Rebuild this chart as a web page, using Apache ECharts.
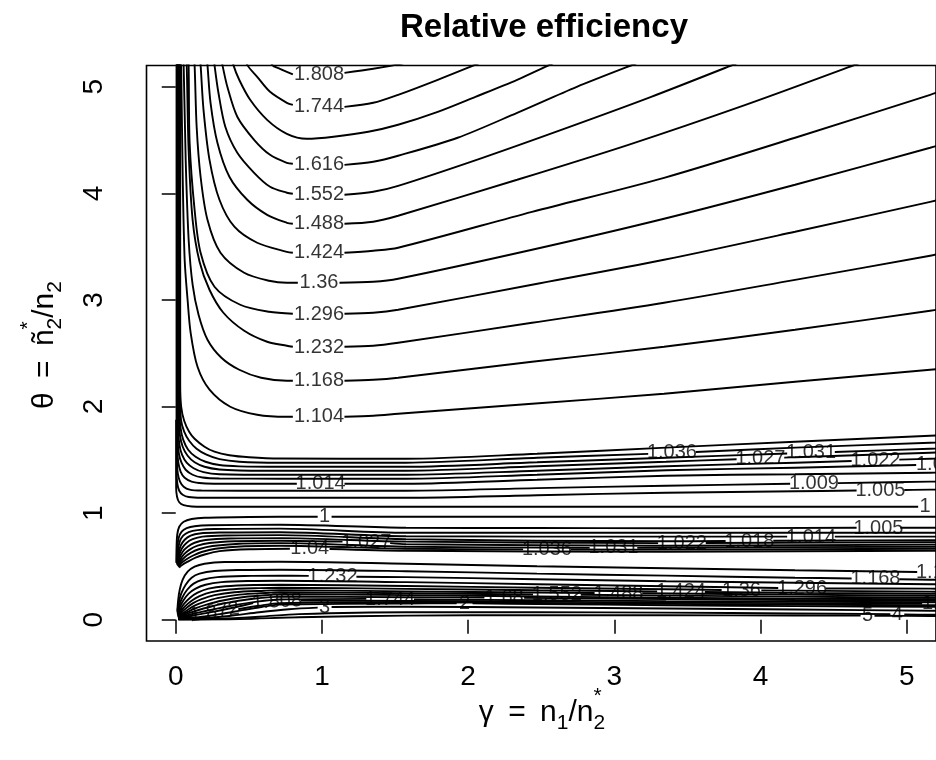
<!DOCTYPE html>
<html><head><meta charset="utf-8">
<script src="https://cdn.jsdelivr.net/npm/echarts@6/dist/echarts.min.js"></script>
<style>html,body{margin:0;padding:0;background:#fff}#c{width:936px;height:760px}</style>
</head><body><div id="c"></div>
<script>
// ---- axis ticks ----
const xTicks = [0, 1, 2, 3, 4, 5];
const yTicks = [0, 1, 2, 3, 4, 5];

// ---- upper contour family (levels 1.808 ... 1.104), segments split at labels ----
const upperLines = [
 [[[0.645,5.300],[0.659,5.206],[0.713,5.169],[0.801,5.117]],[[1.154,5.131],[1.351,5.169],[1.541,5.216],[1.602,5.244]]],
 [[[0.475,5.300],[0.489,5.206],[0.557,5.094],[0.645,4.953],[0.760,4.850],[0.801,4.831]],[[1.154,4.812],[1.351,4.850],[1.521,4.925],[1.792,5.066],[2.064,5.216],[2.132,5.253]]],
 [[[0.380,5.300],[0.394,5.206],[0.434,5.066],[0.509,4.878],[0.625,4.690],[0.760,4.559],[0.896,4.512],[1.079,4.531],[1.317,4.578],[1.521,4.644],[1.792,4.765],[2.050,4.906],[2.335,5.066],[2.573,5.216],[2.641,5.253]]],
 [[[0.305,5.300],[0.319,5.206],[0.353,5.000],[0.421,4.719],[0.536,4.503],[0.645,4.362],[0.760,4.287],[0.801,4.278]],[[1.154,4.268],[1.351,4.297],[1.521,4.353],[1.928,4.522],[2.335,4.756],[2.743,5.000],[3.143,5.216],[3.218,5.253]]],
 [[[0.258,5.300],[0.265,5.206],[0.292,4.944],[0.339,4.625],[0.421,4.381],[0.536,4.193],[0.645,4.062],[0.760,4.006],[0.801,3.996]],[[1.154,3.987],[1.351,4.015],[1.521,4.071],[2.098,4.334],[2.675,4.615],[3.252,4.906],[3.829,5.216],[3.910,5.263]]],
 [[[0.210,5.300],[0.217,5.206],[0.238,4.850],[0.285,4.475],[0.367,4.156],[0.489,3.940],[0.625,3.799],[0.760,3.724],[0.801,3.715]],[[1.154,3.715],[1.351,3.734],[1.521,3.790],[2.335,4.128],[3.096,4.456],[3.897,4.831],[4.664,5.216],[4.766,5.272]]],
 [[[0.163,5.300],[0.170,5.206],[0.190,4.784],[0.231,4.315],[0.299,3.940],[0.401,3.687],[0.557,3.537],[0.760,3.452],[0.801,3.443]],[[1.154,3.443],[1.351,3.462],[1.521,3.490],[2.437,3.827],[3.340,4.146],[4.236,4.522],[5.160,4.925],[5.255,4.972]]],
 [[[0.122,5.300],[0.129,5.206],[0.143,4.625],[0.170,4.156],[0.217,3.752],[0.306,3.443],[0.468,3.255],[0.638,3.180],[0.760,3.161],[0.835,3.161]],[[1.120,3.161],[1.351,3.171],[1.521,3.199],[2.437,3.471],[3.340,3.762],[4.236,4.081],[5.160,4.428],[5.255,4.465]]],
 [[[0.081,5.300],[0.088,5.206],[0.095,4.475],[0.129,3.846],[0.170,3.443],[0.265,3.124],[0.441,2.955],[0.638,2.889],[0.801,2.871]],[[1.154,2.871],[1.351,2.880],[1.521,2.908],[2.437,3.143],[3.340,3.377],[4.236,3.640],[5.160,3.921],[5.255,3.949]]],
 [[[0.068,5.300],[0.075,5.206],[0.088,4.409],[0.1154,3.752],[0.1629,3.358],[0.2308,3.096],[0.3259,2.880],[0.4684,2.711],[0.625,2.608],[0.760,2.570],[0.801,2.561]],[[1.154,2.561],[1.351,2.570],[1.521,2.598],[2.437,2.786],[3.340,2.974],[4.236,3.189],[5.160,3.415],[5.255,3.443]]],
 [[[0.048,5.300],[0.054,5.206],[0.068,4.315],[0.0883,3.565],[0.1154,3.143],[0.1561,2.861],[0.2172,2.627],[0.3123,2.458],[0.4345,2.345],[0.5838,2.270],[0.760,2.242],[0.801,2.242]],[[1.154,2.242],[1.351,2.251],[1.521,2.270],[2.437,2.420],[3.340,2.561],[4.236,2.720],[5.160,2.899],[5.255,2.917]]],
 [[[0.034,5.300],[0.037,5.206],[0.048,4.128],[0.061,3.377],[0.081,3.002],[0.102,2.692],[0.149,2.373],[0.231,2.158],[0.373,1.998],[0.557,1.923],[0.760,1.904],[0.801,1.904]],[[1.154,1.904],[1.351,1.914],[1.521,1.932],[2.437,2.026],[3.340,2.120],[4.236,2.233],[5.160,2.345],[5.255,2.355]]]
];

// ---- fine levels above theta = 1 (1.04 ... 1.005, then 1) ----
const fineUpperLines = [
 [[[0.0306,5.300],[0.0306,2.205],[0.0373,1.998],[0.0577,1.867],[0.0917,1.764],[0.1290,1.698],[0.1969,1.623],[0.2648,1.576],[0.3666,1.543],[0.5024,1.524],[0.7128,1.512],[1.575,1.510],[2.471,1.557],[3.354,1.614],[4.236,1.670],[5.160,1.726],[5.255,1.731]]],
 [[[0.0272,5.300],[0.0272,2.083],[0.0360,1.876],[0.0577,1.764],[0.0917,1.679],[0.1426,1.604],[0.2105,1.548],[0.2987,1.506],[0.4345,1.482],[0.7128,1.473],[1.575,1.473],[2.471,1.520],[3.2315,1.556]],[[3.5574,1.574],[4.236,1.614],[5.160,1.660],[5.255,1.663]]],
 [[[0.0238,5.300],[0.0238,1.970],[0.0326,1.801],[0.0509,1.689],[0.0849,1.595],[0.1358,1.529],[0.2037,1.482],[0.2987,1.451],[0.4345,1.439],[0.7128,1.435],[1.575,1.435],[2.471,1.477],[3.354,1.520],[4.182,1.559]],[[4.508,1.574],[5.160,1.604],[5.255,1.607]]],
 [[[0.0204,5.300],[0.0204,1.876],[0.0292,1.726],[0.0475,1.623],[0.0815,1.538],[0.1290,1.477],[0.1969,1.435],[0.2987,1.409],[0.4345,1.400],[0.7128,1.398],[1.575,1.398],[2.471,1.440],[3.354,1.482],[3.836,1.506]],[[4.162,1.521],[4.236,1.524],[5.160,1.567],[5.255,1.569]]],
 [[[0.0170,5.300],[0.0170,1.782],[0.0251,1.642],[0.0428,1.548],[0.0747,1.473],[0.1222,1.421],[0.1901,1.384],[0.2987,1.365],[0.7128,1.360],[1.575,1.360],[2.471,1.398],[3.354,1.440],[4.236,1.473],[4.623,1.489]],[[4.949,1.502],[5.160,1.510],[5.255,1.512]]],
 [[[0.0136,5.300],[0.0136,1.689],[0.0217,1.557],[0.0394,1.473],[0.0679,1.407],[0.1154,1.360],[0.1833,1.334],[0.2987,1.325],[0.7128,1.323],[1.575,1.323],[2.471,1.360],[3.354,1.402],[4.236,1.426],[5.0645,1.451]]],
 [[[0.0109,5.300],[0.0109,1.595],[0.0177,1.473],[0.0339,1.388],[0.0611,1.332],[0.1086,1.296],[0.1833,1.280],[0.2987,1.276],[0.7128,1.276],[0.8282,1.276]],[[1.1541,1.276],[1.575,1.276],[2.471,1.313],[3.354,1.351],[4.236,1.365],[5.160,1.379],[5.255,1.380]]],
 [[[0.0081,5.300],[0.0081,1.482],[0.0143,1.370],[0.0292,1.295],[0.0543,1.248],[0.0950,1.221],[0.1765,1.212],[0.7128,1.210],[1.575,1.210],[2.471,1.234],[3.354,1.257],[4.2023,1.275]],[[4.5282,1.281],[5.160,1.295],[5.255,1.296]]],
 [[[0.0054,5.300],[0.0054,1.388],[0.0109,1.276],[0.0238,1.210],[0.0475,1.173],[0.0883,1.151],[0.1765,1.144],[0.7128,1.144],[1.575,1.144],[2.471,1.168],[3.354,1.191],[4.236,1.205],[4.657,1.212]],[[4.983,1.217],[5.160,1.220],[5.255,1.220]]],
 [[[0.0027,1.876],[0.0027,1.238],[0.0088,1.154],[0.0238,1.102],[0.0543,1.074],[0.1086,1.062],[0.1969,1.060],[1.575,1.060],[5.078,1.060]]]
];

// ---- level 1 and fine levels below theta = 1 (1.005 ... 1.04) ----
const fineLowerLines = [
 [[[0.0041,0.535],[0.0054,0.675],[0.0102,0.797],[0.0238,0.872],[0.0543,0.919],[0.1086,0.945],[0.1969,0.957],[0.5024,0.964],[0.9708,0.966]],[[1.0659,0.966],[3.354,0.966],[5.160,0.966],[5.255,0.966]]],
 [[[0.0068,0.535],[0.0102,0.675],[0.0204,0.769],[0.0407,0.826],[0.0747,0.858],[0.1290,0.877],[0.2308,0.886],[0.7128,0.891],[1.575,0.863],[2.471,0.860],[3.354,0.858],[4.657,0.862]],[[4.956,0.862],[5.160,0.863],[5.255,0.863]]],
 [[[0.0088,0.525],[0.0136,0.638],[0.0272,0.732],[0.0509,0.788],[0.0883,0.821],[0.1494,0.840],[0.2648,0.851],[0.7128,0.854],[1.575,0.816],[3.354,0.816],[5.160,0.816],[5.255,0.816]]],
 [[[0.0109,0.516],[0.0170,0.610],[0.0339,0.694],[0.0611,0.750],[0.1018,0.788],[0.1629,0.809],[0.2987,0.818],[0.7128,0.821],[1.575,0.783],[3.354,0.779],[4.182,0.779]],[[4.508,0.779],[5.160,0.779],[5.255,0.779]]],
 [[[0.0129,0.511],[0.0204,0.591],[0.0407,0.666],[0.0713,0.718],[0.1154,0.755],[0.1833,0.779],[0.3327,0.790],[0.7128,0.793],[1.575,0.755],[3.354,0.736],[3.761,0.738]],[[4.087,0.740],[5.160,0.746],[5.255,0.746]]],
 [[[0.0149,0.507],[0.0238,0.572],[0.0475,0.638],[0.0815,0.685],[0.1290,0.722],[0.2037,0.748],[0.3666,0.762],[0.7128,0.765],[1.575,0.732],[3.2994,0.718]],[[3.6253,0.719],[5.160,0.727],[5.255,0.727]]],
 [[[0.0170,0.502],[0.0272,0.553],[0.0543,0.610],[0.0950,0.657],[0.1494,0.694],[0.2308,0.720],[0.4005,0.736],[0.7128,0.741],[1.1405,0.732]],[[1.4664,0.718],[1.575,0.708],[3.354,0.694],[5.160,0.704],[5.255,0.704]]],
 [[[0.0190,0.497],[0.0306,0.539],[0.0611,0.586],[0.1052,0.629],[0.1629,0.663],[0.2512,0.691],[0.4345,0.713],[0.7128,0.718],[1.575,0.685],[2.831,0.674]],[[3.1568,0.674],[3.354,0.675],[5.160,0.685],[5.255,0.685]]],
 [[[0.0210,0.492],[0.0339,0.525],[0.0679,0.563],[0.1154,0.600],[0.1765,0.635],[0.2716,0.666],[0.4684,0.689],[0.7128,0.694],[1.575,0.666],[2.3761,0.660]],[[2.7020,0.659],[3.354,0.657],[5.160,0.666],[5.255,0.666]]],
 [[[0.0231,0.488],[0.0407,0.511],[0.0815,0.544],[0.1358,0.582],[0.2037,0.614],[0.2987,0.643],[0.5024,0.661],[0.7807,0.666]],[[1.0523,0.663],[1.575,0.647],[3.354,0.638],[5.160,0.647],[5.255,0.647]]]
];

// ---- lower family near theta = 0 (1.104 ... 5) ----
const lowerLines = [
 [[[0.0109,0.084],[0.0170,0.188],[0.0272,0.281],[0.0475,0.375],[0.0815,0.450],[0.1290,0.497],[0.1969,0.525],[0.3327,0.541],[0.7128,0.544],[1.575,0.525],[2.471,0.502],[3.354,0.483],[4.236,0.464],[5.0713,0.447]]],
 [[[0.0115,0.070],[0.0204,0.159],[0.0373,0.244],[0.0679,0.328],[0.1086,0.394],[0.1629,0.432],[0.2648,0.457],[0.4345,0.466],[0.7128,0.469],[1.575,0.455],[2.471,0.432],[3.354,0.413],[4.236,0.394],[4.623,0.386]],[[4.949,0.380],[5.160,0.375],[5.255,0.373]]],
 [[[0.0122,0.061],[0.0238,0.131],[0.0441,0.206],[0.0781,0.281],[0.1222,0.338],[0.1833,0.375],[0.2851,0.399],[0.4684,0.410],[0.7128,0.413],[0.9097,0.411]],[[1.2356,0.403],[1.575,0.399],[2.471,0.380],[3.354,0.361],[4.236,0.347],[5.160,0.333],[5.255,0.331]]],
 [[[0.0129,0.053],[0.0272,0.113],[0.0509,0.178],[0.0883,0.244],[0.1358,0.291],[0.2037,0.328],[0.3123,0.352],[0.5024,0.363],[0.7128,0.366],[1.575,0.352],[2.471,0.333],[3.354,0.314],[4.1208,0.298]],[[4.4467,0.293],[5.160,0.291],[5.255,0.290]]],
 [[[0.0129,0.047],[0.0306,0.094],[0.0577,0.150],[0.0984,0.206],[0.1494,0.253],[0.2240,0.291],[0.3394,0.314],[0.5363,0.326],[0.7128,0.328],[1.575,0.316],[2.471,0.300],[3.354,0.286],[3.7339,0.279]],[[4.0054,0.275],[5.160,0.263],[5.255,0.262]]],
 [[[0.0136,0.041],[0.0339,0.080],[0.0645,0.127],[0.1086,0.178],[0.1629,0.220],[0.2444,0.258],[0.3666,0.283],[0.5703,0.296],[0.7128,0.300],[1.575,0.289],[2.471,0.276],[3.2926,0.265]],[[3.6185,0.260],[4.236,0.252],[5.160,0.244],[5.255,0.243]]],
 [[[0.0136,0.036],[0.0373,0.068],[0.0713,0.108],[0.1188,0.155],[0.1765,0.192],[0.2648,0.230],[0.4005,0.258],[0.6042,0.272],[0.7128,0.277],[1.575,0.266],[2.471,0.255],[2.8649,0.251]],[[3.1907,0.248],[4.236,0.235],[5.160,0.225],[5.255,0.224]]],
 [[[0.0143,0.031],[0.0407,0.056],[0.0781,0.089],[0.1290,0.131],[0.1901,0.164],[0.2851,0.202],[0.4345,0.235],[0.6382,0.253],[0.7128,0.258],[1.575,0.248],[2.444,0.237]],[[2.7699,0.234],[4.236,0.216],[5.160,0.206],[5.255,0.205]]],
 [[[0.0143,0.026],[0.0441,0.047],[0.0849,0.075],[0.1426,0.110],[0.2105,0.141],[0.3123,0.178],[0.4684,0.213],[0.6721,0.235],[0.7128,0.239],[1.575,0.230],[2.471,0.218],[3.354,0.206],[4.236,0.197],[5.160,0.192],[5.255,0.191]]],
 [[[0.0149,0.023],[0.0475,0.039],[0.0950,0.063],[0.1561,0.091],[0.2308,0.119],[0.3394,0.155],[0.5024,0.192],[0.7128,0.216],[1.575,0.211],[2.1113,0.207]],[[2.3829,0.205],[3.354,0.194],[4.236,0.185],[5.160,0.178],[5.255,0.177]]],
 [[[0.0149,0.019],[0.0543,0.032],[0.1086,0.051],[0.1765,0.073],[0.2648,0.099],[0.3802,0.131],[0.5567,0.169],[0.7128,0.189],[1.3035,0.195]],[[1.6293,0.189],[2.471,0.183],[3.354,0.174],[4.236,0.169],[5.160,0.164],[5.255,0.163]]],
 [[[0.0156,0.015],[0.0611,0.025],[0.1222,0.039],[0.1969,0.059],[0.2919,0.084],[0.4073,0.117],[0.5295,0.155]],[[0.8554,0.180],[1.575,0.176],[2.471,0.169],[3.354,0.161],[4.236,0.155],[5.1052,0.151]]],
 [[[0.0156,0.011],[0.0679,0.019],[0.1018,0.025]],[[0.4277,0.098],[0.5703,0.131],[0.7128,0.155],[1.575,0.163],[2.471,0.157],[3.354,0.148],[4.236,0.141],[5.160,0.136],[5.255,0.135]]],
 [[[0.0163,0.008],[0.0950,0.016],[0.1969,0.030],[0.3123,0.054],[0.4684,0.092],[0.6246,0.127],[0.7128,0.141],[1.575,0.152],[1.9212,0.153]],[[2.0299,0.153],[2.471,0.147],[3.354,0.136],[4.236,0.127],[5.160,0.122],[5.255,0.121]]],
 [[[0.0170,0.006],[0.1629,0.013],[0.3666,0.035],[0.5703,0.070],[0.7739,0.098],[0.9708,0.113]],[[1.0659,0.119],[1.575,0.122],[2.471,0.114],[3.354,0.105],[4.236,0.096],[5.160,0.084],[5.255,0.083]]],
 [[[0.0177,0.004],[0.2987,0.009],[0.5703,0.028],[0.8418,0.052],[1.575,0.070],[2.471,0.070],[3.354,0.066],[4.236,0.058],[4.888,0.052]],[[4.983,0.048],[5.160,0.047],[5.255,0.046]]],
 [[[0.0183,0.002],[0.4345,0.005],[0.8418,0.023],[1.575,0.038],[2.471,0.042],[3.354,0.042],[4.236,0.039],[4.6843,0.038]],[[4.7794,0.037],[5.160,0.035],[5.255,0.034]]]
];

// ---- contour labels: [gamma, theta, text, rotation] ----
const contourLabels = [
 [0.98,5.113,'1.808'],[0.98,4.815,'1.744'],[0.98,4.273,'1.616'],[0.98,3.990,'1.552'],[0.98,3.715,'1.488'],
 [0.98,3.443,'1.424'],[0.98,3.161,'1.36'],[0.98,2.865,'1.296'],[0.98,2.556,'1.232'],[0.98,2.242,'1.168'],[0.98,1.909,'1.104'],
 [3.394,1.565,'1.036'],[4.345,1.566,'1.031'],[3.999,1.513,'1.027'],[4.786,1.495,'1.022'],[5.234,1.454,'1.018'],
 [0.991,1.276,'1.014'],[4.365,1.280,'1.009'],[4.820,1.214,'1.005'],[5.126,1.060,'1'],
 [1.018,0.966,'1'],
 [4.8065,0.855,'1.005'],[4.345,0.772,'1.014'],[3.924,0.732,'1.018'],[3.462,0.716,'1.022'],[1.3035,0.725,'1.027'],
 [2.994,0.674,'1.031'],[2.539,0.659,'1.036'],[0.9165,0.664,'1.04'],
 [5.234,0.446,'1.104'],[4.786,0.383,'1.168'],[1.0726,0.407,'1.232'],[4.2838,0.295,'1.296'],[3.8697,0.277,'1.36'],
 [3.4555,0.263,'1.424'],[3.028,0.250,'1.488'],[2.607,0.236,'1.552'],[2.247,0.206,'1.68'],[1.4664,0.192,'1.744'],
 [0.6925,0.169,'1.808',3],[5.275,0.150,'1.808'],[0.2648,0.070,'1.872',9],[1.9756,0.153,'2'],[1.0183,0.116,'3'],
 [4.9355,0.050,'4'],[4.7318,0.038,'5']
];

// ---------- build ----------
const FONT = 'Liberation Sans';
const lineSeries = [];
[upperLines, fineUpperLines, fineLowerLines, lowerLines].forEach(fam =>
  fam.forEach(line => line.forEach(seg => lineSeries.push({
    type: 'line', data: seg, showSymbol: false, symbol: 'none', smooth: 0.3,
    silent: true, clip: true, z: 2, lineStyle: { color: '#000', width: 1.9 }
  }))));

const mctx = document.createElement('canvas').getContext('2d');
function tw(t, s) { mctx.font = s + 'px "' + FONT + '"'; return mctx.measureText(t).width; }
function mathGroup(pieces, cx, cy, rot) {
  let x = 0, prevX = 0; const kids = [];
  pieces.forEach(p => {
    const w = tw(p.t, p.s);
    const px = p.stack ? prevX : x;
    kids.push({ type: 'text', x: px, y: p.dy, silent: true,
      style: { text: p.t, fontSize: p.s, fontFamily: FONT, fill: '#000', align: 'left', verticalAlign: 'middle' } });
    if (p.stack) { x = Math.max(x, px + w); } else { prevX = px; x = px + w; }
  });
  kids.forEach(k => { k.x -= x / 2; });
  return { type: 'group', x: cx, y: cy, rotation: rot, children: kids };
}

const chart = echarts.init(document.getElementById('c'), null, { renderer: 'canvas' });
chart.setOption({
  animation: false,
  backgroundColor: '#fff',
  grid: { left: 146.5, top: 65.5, width: 795.5, height: 575.5, show: true, borderColor: '#000', borderWidth: 1.6, backgroundColor: 'rgba(0,0,0,0)' },
  xAxis: {
    type: 'value', min: -0.2, max: 5.2,
    axisLine: { show: false }, splitLine: { show: false },
    axisTick: { show: true, inside: false, length: 14, lineStyle: { color: '#000', width: 1.5 }, customValues: xTicks },
    axisLabel: { customValues: xTicks, fontSize: 28, fontFamily: FONT, color: '#000', margin: 22 }
  },
  yAxis: {
    type: 'value', min: -0.2, max: 5.2,
    axisLine: { show: false }, splitLine: { show: false },
    axisTick: { show: true, inside: false, length: 14, lineStyle: { color: '#000', width: 1.5 }, customValues: yTicks },
    axisLabel: { customValues: yTicks, fontSize: 28, fontFamily: FONT, color: '#000', margin: 38, rotate: 90 }
  },
  graphic: [
    { type: 'text', x: 544, y: 28, silent: true,
      style: { text: 'Relative efficiency', fontSize: 33, fontWeight: 'bold', fontFamily: FONT, fill: '#000', align: 'center', verticalAlign: 'middle' } },
    mathGroup([
      { t: 'γ\u2009 = \u2009n', s: 30, dy: 0 }, { t: '1', s: 21, dy: 10 }, { t: '/n', s: 30, dy: 0 },
      { t: '2', s: 21, dy: 10 }, { t: '*', s: 21, dy: -17, stack: true }
    ], 542, 713, 0),
    mathGroup([
      { t: 'θ\u2009 = \u2009ñ', s: 30, dy: 0 }, { t: '2', s: 21, dy: 10 }, { t: '*', s: 21, dy: -17, stack: true },
      { t: '/n', s: 30, dy: 0 }, { t: '2', s: 21, dy: 10 }
    ], 45, 345, Math.PI / 2)
  ],
  series: lineSeries.concat([
    { type: 'scatter', silent: true, clip: false, z: 3, symbolSize: 1,
      itemStyle: { color: 'rgba(0,0,0,0)' },
      label: { show: true, position: 'inside', formatter: '{b}', fontSize: 20, fontFamily: FONT, color: '#000' },
      data: contourLabels.map(l => ({ value: [l[0], l[1]], name: l[2], label: { rotate: l[3] || 0 } })) }
  ])
});
</script>
</body></html>
